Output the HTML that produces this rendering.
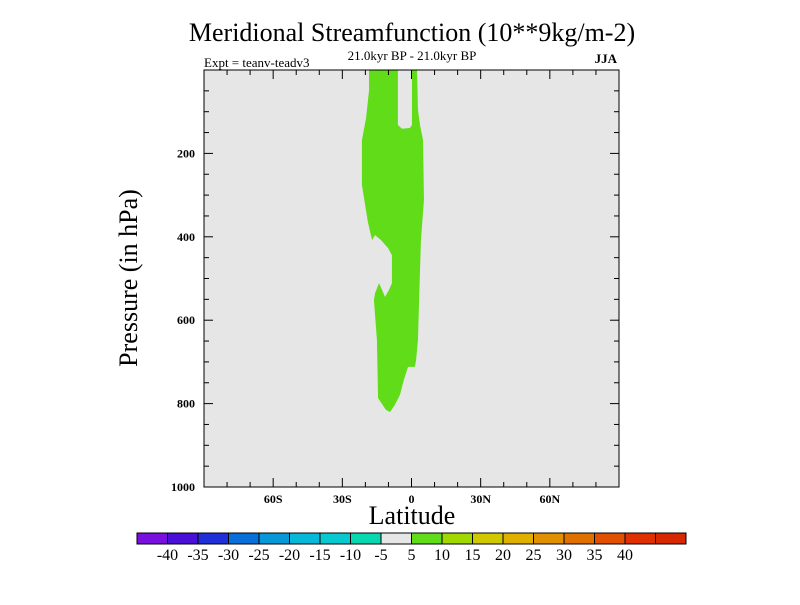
<!DOCTYPE html>
<html><head><meta charset="utf-8"><style>
body{margin:0;background:#fff}
svg text{font-family:"Liberation Serif",serif}
</style></head><body>
<svg id="c" width="800" height="600" viewBox="0 0 800 600">
<rect width="800" height="600" fill="#fff"/>
<text x="412" y="41" font-size="26" text-anchor="middle">Meridional Streamfunction (10**9kg/m-2)</text>
<text x="412" y="60" font-size="13" text-anchor="middle">21.0kyr BP - 21.0kyr BP</text>
<text x="204" y="67" font-size="13">Expt = teanv-teadv3</text>
<text x="617" y="63" font-size="13" font-weight="bold" text-anchor="end">JJA</text>
<rect x="204" y="70" width="415" height="417" fill="#e6e6e6"/>
<g id="fills"></g>
<g id="ticks"></g>
<rect x="204" y="70" width="415" height="417" fill="none" stroke="#000" stroke-width="1"/>
<text transform="translate(137,278) rotate(-90)" font-size="26" text-anchor="middle">Pressure (in hPa)</text>
<text x="412" y="524" font-size="26" text-anchor="middle">Latitude</text>
<g id="cbar"></g>
</svg>
<script>
const latTicks=[-60,-30,0,30,60];
const latLabels=["60S","30S","0","30N","60N"];
const pTicks=[200,400,600,800,1000];
const contourLat=[-18.4,-5.9,-5.9,-4.1,-0.7,0.2,0.2,2.4,2.8,3.7,5.0,5.4,4.1,3.3,2.8,2.0,1.5,-1.5,-3.3,-5.0,-7.2,-9.3,-11.1,-14.5,-15.0,-16.3,-15.8,-14.1,-12.4,-11.5,-9.8,-8.5,-8.5,-10.2,-13.2,-15.8,-17.1,-18.9,-21.5,-21.5,-19.7,-18.4];
const contourP=[0,0,132,141,139,132,0,0,96,132,168,312,408,552,647,695,712,712,743,779,803,820,815,787,647,552,535,511,532,544,528,511,444,427,408,396,408,365,276,168,115,48];
const levels=[-40,-35,-30,-25,-20,-15,-10,-5,5,10,15,20,25,30,35,40];
const levelColors=["#7a10e0","#4a10d8","#2030d8","#0870d8","#0898d8","#08b8d8","#08c8d0","#08d8b0","#e6e6e6","#60dc18","#a0d800","#d0c800","#e0b000","#e09000","#e07000","#e05000","#e03000","#d82800"];
const NS="http://www.w3.org/2000/svg";
const X=l=>411.5+l*415/180, Y=p=>70+p*417/1000;
function mk(t,a,par){const e=document.createElementNS(NS,t);for(const k in a)e.setAttribute(k,a[k]);par.appendChild(e);return e;}
const fills=document.getElementById('fills');
const poly=mk('polygon',{points:contourLat.map((l,i)=>X(l)+','+Y(contourP[i])).join(' '),fill:'#60dc18'},fills);


const tk=document.getElementById('ticks');
for(let l=-80;l<=80;l+=10){const maj=l%30===0;const L=maj?9:5;
 mk('line',{x1:X(l),x2:X(l),y1:487,y2:487-L,stroke:'#000'},tk);
 mk('line',{x1:X(l),x2:X(l),y1:70,y2:70+L,stroke:'#000'},tk);}
for(let p=50;p<1000;p+=50){const maj=p%200===0;const L=maj?9:5;
 mk('line',{x1:204,x2:204+L,y1:Y(p),y2:Y(p),stroke:'#000'},tk);
 mk('line',{x1:619,x2:619-L,y1:Y(p),y2:Y(p),stroke:'#000'},tk);}
latTicks.forEach((l,i)=>{const t=mk('text',{x:X(l),y:503,'font-size':12,'font-weight':'bold','text-anchor':'middle'},tk);t.textContent=latLabels[i];
 
 });
pTicks.forEach(p=>{const t=mk('text',{x:195,y:Y(p)+4,'font-size':12,'font-weight':'bold','text-anchor':'end'},tk);t.textContent=p;
 
 });
const cb=document.getElementById('cbar');const x0=137,w=(686-137)/levelColors.length;
levelColors.forEach((c,i)=>{const r=mk('rect',{x:x0+i*w,y:533,width:w,height:11,fill:c,stroke:'#000','stroke-width':1},cb);
 
 });
levels.forEach((v,i)=>{const t=mk('text',{x:x0+(i+1)*w,y:560,'font-size':16,'text-anchor':'middle'},cb);t.textContent=v;
 
 });
</script>
</body></html>
